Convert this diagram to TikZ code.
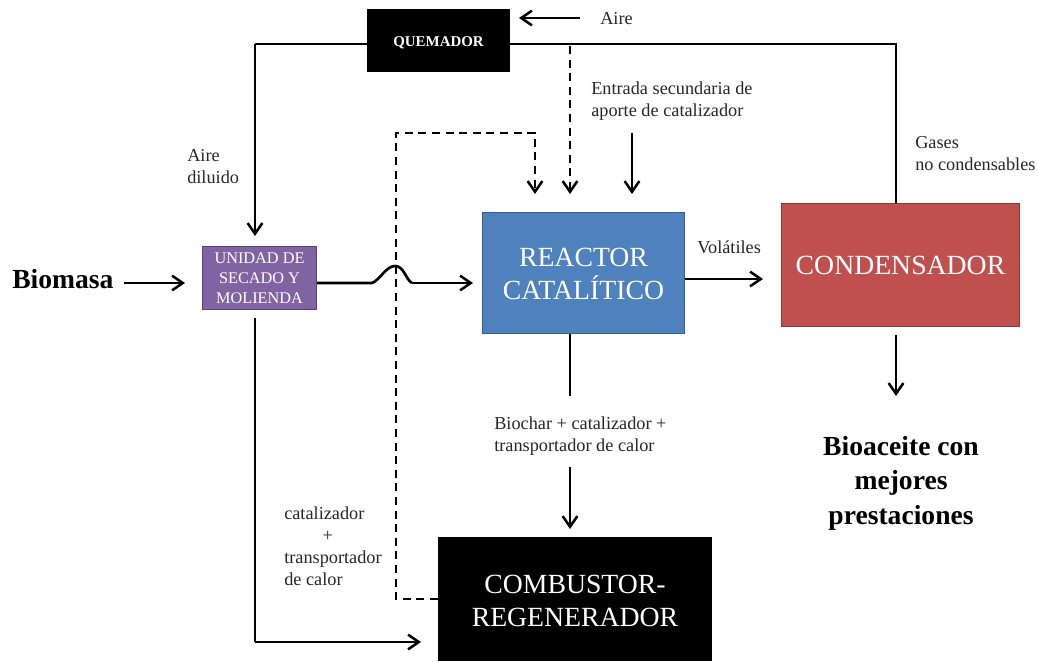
\documentclass[tikz,border=0pt]{standalone}
\usepackage{fontspec}
\setmainfont{Liberation Serif}
\usetikzlibrary{arrows.meta,calc}
\definecolor{purpD}{RGB}{90,65,125}
\definecolor{purpF}{RGB}{128,100,162}
\definecolor{blueD}{RGB}{56,93,138}
\definecolor{blueF}{RGB}{79,129,189}
\definecolor{redD}{RGB}{140,56,53}
\definecolor{redF}{RGB}{192,80,77}
\newcommand{\lowr}[2]{\raisebox{-#1}[\height][\depth]{#2}}
\tikzset{
  box/.style={draw=#1,line width=1pt,minimum width=0pt,inner sep=0pt,align=center},
  flow/.style={line width=2pt,black,-{Straight Barb[length=8pt,width=11pt,line width=1.9pt]}},
  plain/.style={line width=2pt,black},
  dash flow/.style={line width=2.1pt,black,dash pattern=on 6pt off 4.2pt},
  lab/.style={font=\fontsize{13.7}{16.5}\selectfont,align=left,anchor=west,inner sep=0pt,text=black!85},
  big/.style={font=\bfseries\fontsize{20.7}{25.8}\selectfont,align=center,inner sep=0pt}
}
\begin{document}
\begin{tikzpicture}[x=0.75pt,y=-0.75pt]
\useasboundingbox (0,0) rectangle (1038,661);
% boxes
\node[box=black,fill=black,text=white,font=\bfseries\fontsize{11.2}{14}\selectfont,minimum width=106.5pt,minimum height=46.5pt] (quem) at (438.5,40.5) {\lowr{1.5pt}{QUEMADOR}};
\node[box=purpD,fill=purpF,text=white,font=\fontsize{12.2}{15}\selectfont,minimum width=85.5pt,minimum height=47.25pt] (unidad) at (259.5,278) {UNIDAD DE\\SECADO Y\\MOLIENDA};
\node[box=blueD,fill=blueF,text=white,font=\fontsize{20.8}{24.8}\selectfont,minimum width=151.5pt,minimum height=90.75pt] (reactor) at (583.5,273) {\lowr{0.7pt}{REACTOR}\\\lowr{0.7pt}{CATALÍTICO}};
\node[box=redD,fill=redF,text=white,font=\fontsize{20.8}{24.8}\selectfont,minimum width=178.5pt,minimum height=92.25pt] (cond) at (900.5,265) {CONDENSADOR};
\node[box=black,fill=black,text=white,font=\fontsize{20.8}{24.8}\selectfont,minimum width=204.75pt,minimum height=92.25pt] (comb) at (575,599) {\lowr{1.5pt}{COMBUSTOR-}\\\lowr{1.5pt}{REGENERADOR}};
% labels
\node[big,anchor=west] (biomasa) at (12,279) {Biomasa};
\node[big] (bio) at (901,483) {Bioaceite con\\mejores\\prestaciones};
\node[lab] (aire) at (600,19) {Aire};
\node[lab] (dil) at (187,167) {Aire\\diluido};
\node[lab] (ent) at (591,101) {Entrada secundaria de\\aporte de catalizador};
\node[lab] (gases) at (915,154) {Gases\\no condensables};
\node[lab] (vol) at (697,247) {Volátiles};
\node[lab] (bch) at (494,436) {Biochar + catalizador +\\transportador de calor};
\node[lab] (cat) at (284,546) {catalizador\\\hspace*{2.1em}+\\transportador\\de calor};
% coordinates
\coordinate (qL) at (367,44);
\coordinate (qR) at (510,44);
\coordinate (dilTop) at (255,44);
\coordinate (unTop) at (255,236);
\coordinate (gTop) at (896,44);
\coordinate (gBot) at (896,203);
\coordinate (aS) at (580,18);
\coordinate (aE) at (519,18);
\coordinate (dS) at (570,46);
\coordinate (dE) at (570,194);
\coordinate (d2s) at (438,599);
\coordinate (d2a) at (396,599);
\coordinate (d2b) at (396,133);
\coordinate (d2c) at (535,133);
\coordinate (d2d) at (535,194);
\coordinate (eS) at (632,133);
\coordinate (eE) at (632,194);
\coordinate (bS) at (124,283);
\coordinate (bE) at (185,283);
\coordinate (uOut) at (317,283);
\coordinate (rOut) at (685,279);
\coordinate (vE) at (763,279);
\coordinate (cS) at (896,335);
\coordinate (cE) at (896,396);
\coordinate (rBot) at (570,334);
\coordinate (rE) at (570,396);
\coordinate (cbS) at (570,467);
\coordinate (cbE) at (570,529);
\coordinate (uS) at (255,318);
\coordinate (uC) at (255,642);
\coordinate (uE) at (421,642);
% connectors
\draw[plain] (qL) -- (dilTop);
\draw[flow] (dilTop) -- (unTop);
\draw[plain] (qR) -- (gTop) -- (gBot);
\draw[flow] (aS) -- (aE);
\draw[dash flow,-{Straight Barb[length=8pt,width=11pt,line width=1.9pt]}] (dS) -- (dE);
\draw[dash flow,-{Straight Barb[length=8pt,width=11pt,line width=1.9pt]}] (d2s) -- (d2a) -- (d2b) -- (d2c) -- (d2d);
\draw[flow] (eS) -- (eE);
\draw[flow] (bS) -- (bE);
\draw[plain] (uOut) -- (372,283) .. controls (380,280) and (386,266) .. (395,266) .. controls (404,266) and (406,280) .. (412,283);
\draw[flow] (412,283) -- (473,283);
\draw[flow] (rOut) -- (vE);
\draw[flow] (cS) -- (cE);
\draw[plain] (rBot) -- (rE);
\draw[flow] (cbS) -- (cbE);
\draw[plain] (uS) -- (uC);
\draw[flow] (uC) -- (uE);
\end{tikzpicture}
\end{document}
